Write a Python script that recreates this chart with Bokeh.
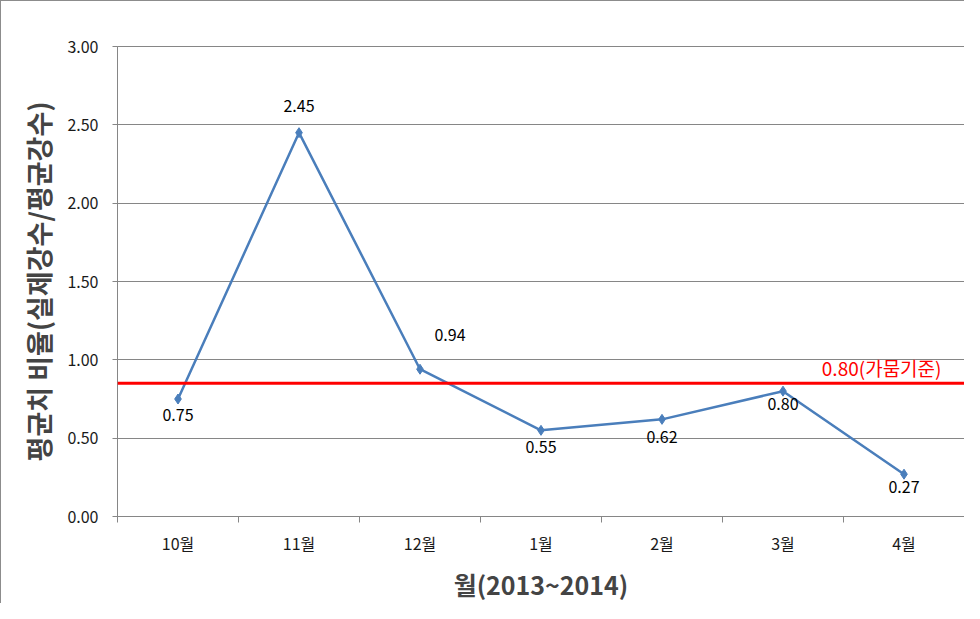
from bokeh.plotting import figure
from bokeh.models import FixedTicker, Span, Label, ColumnDataSource, Range1d, NumeralTickFormatter
from bokeh.core.properties import value
from bokeh.embed import file_html
from bokeh.resources import INLINE

months = ["10월", "11월", "12월", "1월", "2월", "3월", "4월"]
ratio = [0.75, 2.45, 0.94, 0.55, 0.62, 0.80, 0.27]
labels = ["0.75", "2.45", "0.94", "0.55", "0.62", "0.80", "0.27"]
drought_level = 0.85
drought_text = "0.80(가뭄기준)"
y_ticks = [0.0, 0.5, 1.0, 1.5, 2.0, 2.5, 3.0]

FONT = "Noto Sans CJK KR"
GRAY = "#868686"
BLUE = "#4A7EBB"

xs = [i + 0.5 for i in range(len(months))]
# label offsets in screen pixels (style; positive dy = downward)
label_dx = [0, 0, 30, 0, 0, 0, 0]
label_dy = [16, -27, -34, 17, 18, 13, 13]

src = ColumnDataSource(dict(x=xs, y=ratio, t=labels, dx=label_dx, dy=label_dy))

p = figure(width=964, height=603, output_backend="svg", toolbar_location=None,
           x_range=Range1d(0, len(months)), y_range=Range1d(0, 3.0),
           min_border_left=116, min_border_right=1, min_border_top=45, min_border_bottom=86)
p.background_fill_color = "white"
p.border_fill_color = "white"
p.outline_line_color = GRAY
p.outline_line_width = 1
p.styles = {"border-left": "1px solid #8c8c8c", "border-top": "1px solid #8c8c8c"}

# y axis
p.yaxis.ticker = FixedTicker(ticks=y_ticks, minor_ticks=[])
p.yaxis.formatter = NumeralTickFormatter(format="0.00")
p.yaxis.axis_line_color = GRAY
p.yaxis.major_tick_line_color = GRAY
p.yaxis.major_tick_out = 5
p.yaxis.major_tick_in = 0
p.yaxis.major_label_standoff = 14
p.yaxis.major_label_text_font = FONT
p.yaxis.major_label_text_font_size = "16px"
p.yaxis.major_label_text_color = "#1a1a1a"
p.yaxis.axis_label = "평균치 비율(실제강수/평균강수)"
p.yaxis.axis_label_text_font = FONT
p.yaxis.axis_label_text_font_style = "bold"
p.yaxis.axis_label_text_font_size = "27px"
p.yaxis.axis_label_standoff = 6

# x axis
p.xaxis.ticker = FixedTicker(ticks=xs, minor_ticks=list(range(len(months) + 1)))
p.xaxis.major_label_overrides = {x: m for x, m in zip(xs, months)}
p.xaxis.axis_line_color = GRAY
p.xaxis.major_tick_out = 0
p.xaxis.major_tick_in = 0
p.xaxis.minor_tick_line_color = GRAY
p.xaxis.minor_tick_out = 6
p.xaxis.minor_tick_in = 0
p.xaxis.major_label_text_font = FONT
p.xaxis.major_label_text_font_size = "16px"
p.xaxis.major_label_text_color = "#1a1a1a"
p.xaxis.major_label_standoff = 8
p.xaxis.axis_label = "월(2013~2014)"
p.xaxis.axis_label_text_font = FONT
p.xaxis.axis_label_text_font_style = "bold"
p.xaxis.axis_label_text_font_size = "25px"
p.xaxis.axis_label_standoff = 8

p.xgrid.visible = False
p.ygrid.ticker = FixedTicker(ticks=y_ticks)
p.ygrid.grid_line_color = GRAY
p.ygrid.grid_line_width = 1

p.line("x", "y", source=src, line_color=BLUE, line_width=2.5)
p.scatter("x", "y", source=src, marker="diamond", size=10, fill_color=BLUE, line_color=BLUE)

p.text("x", "y", text="t", source=src, x_offset="dx", y_offset="dy",
       text_align="center", text_baseline="middle",
       text_font=value(FONT), text_font_size="16px", text_color="black")

p.add_layout(Span(location=drought_level, dimension="width", line_color="#FF0000", line_width=3))
p.add_layout(Label(x=len(months), y=drought_level, x_offset=-23, y_offset=2,
                   text=drought_text, text_align="right", text_baseline="bottom",
                   text_font=FONT, text_font_size="19px", text_color="#FF0000"))

open("out.html", "w").write(file_html(p, INLINE))
